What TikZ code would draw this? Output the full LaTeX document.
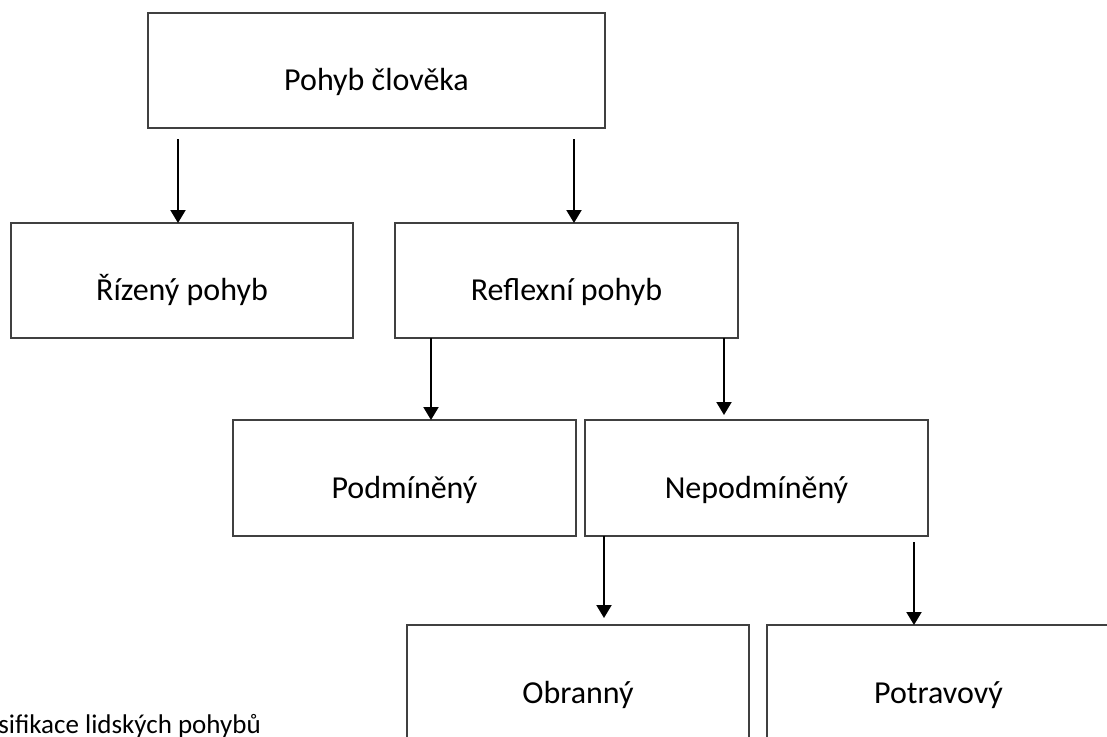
\documentclass[tikz,border=0pt]{standalone}
\usepackage{fontspec}
\setmainfont{Carlito}
\usetikzlibrary{arrows.meta}
\tikzset{
  box/.style={draw=black!75, line width=1.2pt, fill=white, rectangle,
    minimum height=115pt, inner sep=0pt, outer sep=0pt,
    text height=40pt, text depth=0pt,
    font=\fontsize{32}{38}\selectfont},
  arr/.style={line width=2pt, -{Triangle[length=13pt,width=15pt]}},
}
\begin{document}
\begin{tikzpicture}[x=1pt,y=-1pt]
\useasboundingbox (0,0) rectangle (1107,736);
\clip (0,0) rectangle (1107,736);
\node[box, minimum width=457pt] (top) at (376.5,70.5) {Pohyb člověka};
\node[box, minimum width=342pt] (riz) at (182,280.5) {Řízený pohyb};
\node[box, minimum width=343pt] (ref) at (566.5,280.5) {Reflexní pohyb};
\node[box, minimum width=343pt, minimum height=116pt] (pod) at (404.5,478) {Podmíněný};
\node[box, minimum width=343pt, minimum height=116pt] (nep) at (756.5,478) {Nepodmíněný};
\node[box, minimum width=342pt, minimum height=116pt] (obr) at (578,683) {Obranný};
\node[box, minimum width=343pt, minimum height=116pt] (pot) at (938.5,683) {Potravový};
\node[anchor=base east, inner sep=0pt, font=\fontsize{27}{32}\selectfont] (cap) at (261,733) {Klasifikace lidských pohybů};
\coordinate (a1) at ([shift={(30,11)}]top.south west);
\coordinate (a2) at ([shift={(-31,11)}]top.south east);
\coordinate (a3) at ([shift={(36,0)}]ref.south west);
\coordinate (a4) at ([shift={(-14,0)}]ref.south east);
\coordinate (a5) at ([shift={(19,0)}]nep.south west);
\coordinate (a6) at ([shift={(-14,6)}]nep.south east);
\draw[arr] (a1) -- (a1 |- riz.north);
\draw[arr] (a2) -- (a2 |- ref.north);
\draw[arr] (a3) -- (a3 |- pod.north);
\draw[arr] (a4) -- ([yshift=5pt]a4 |- nep.north);
\draw[arr] (a5) -- ([yshift=7pt]a5 |- obr.north);
\draw[arr] (a6) -- (a6 |- pot.north);
\end{tikzpicture}
\end{document}
